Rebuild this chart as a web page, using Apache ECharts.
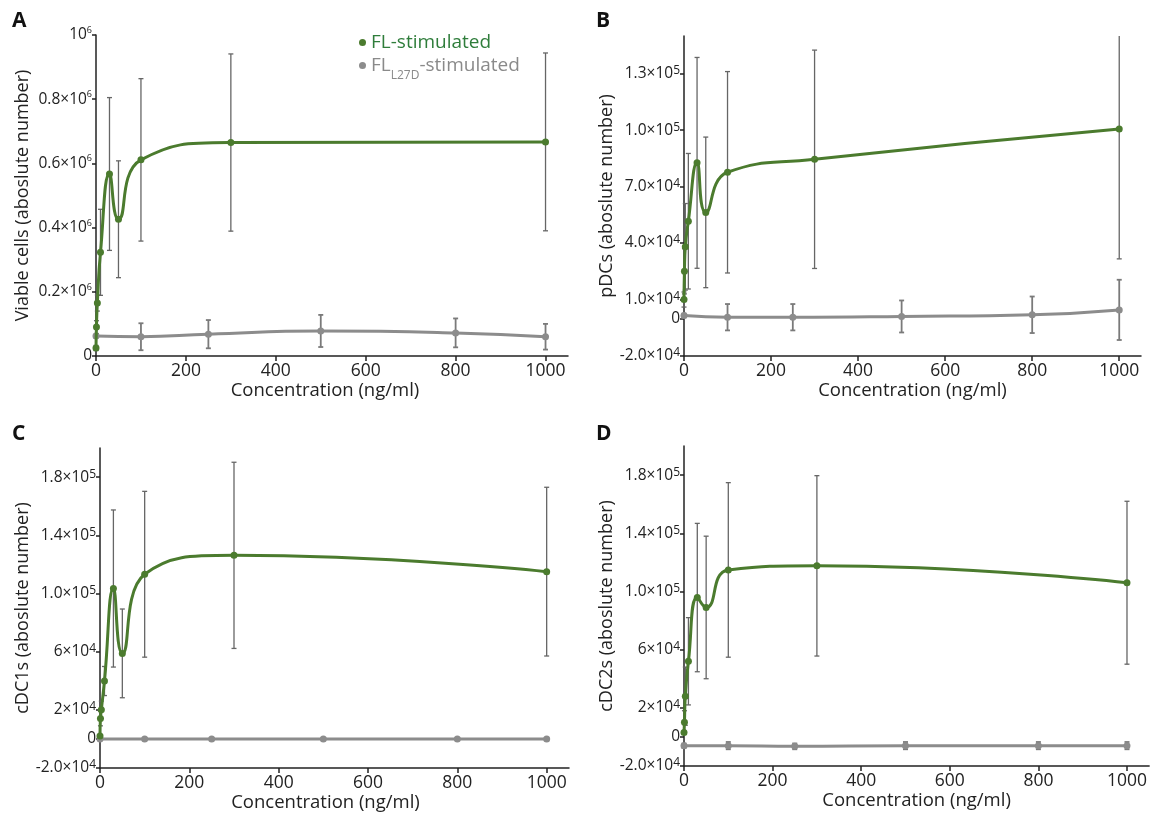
<!DOCTYPE html>
<html><head><meta charset="utf-8">
<script src="https://cdn.jsdelivr.net/npm/echarts@6/dist/echarts.min.js"></script>
<style>html,body{margin:0;padding:0;background:#fff}#c{width:1150px;height:816px}</style>
</head><body><div id="c"></div>
<script>
// ---------- data ----------
const concFL = [0, 1, 3, 10, 30, 50, 100, 300, 1000];
const concL27D = [0, 100, 250, 500, 800, 1000];
const xTicks = [0, 200, 400, 600, 800, 1000];

const viableFL = [25000, 90000, 165000, 323000, 567000, 426000, 611000, 665000, 667000];
const viableFLErr = [8000, 20000, 25000, 134000, 238000, 182000, 253000, 276000, 277000];
const viableL27D = [62000, 60000, 68000, 78000, 72000, 60000];
const viableL27DErr = [5000, 42000, 44000, 50000, 45000, 40000];

const pdcFL = [10000, 25000, 38000, 51600, 82600, 56300, 77600, 84500, 100600];
const pdcFLErr = [4000, 12000, 23000, 36000, 56000, 40000, 53500, 58000, 69000];
const pdcL27D = [1500, 600, 600, 1000, 1900, 4500];
const pdcL27DErr = [1000, 7000, 7000, 8500, 9700, 16000];

const cdc1FL = [2000, 14000, 20000, 39800, 103400, 58800, 113200, 126200, 115000];
const cdc1FLErr = [1000, 5000, 6000, 10000, 54000, 30500, 57000, 64000, 58000];
const cdc1L27D = [0, 0, 0, 0, 0, 0];
const cdc1L27DErr = [500, 500, 500, 500, 500, 500];

const cdc2FL = [3000, 10000, 28000, 52000, 95800, 89000, 114800, 117600, 106000];
const cdc2FLErr = [1000, 8000, 20000, 30000, 51000, 49000, 60000, 62000, 56000];
const cdc2L27D = [-6000, -6000, -6500, -6000, -6000, -6000];
const cdc2L27DErr = [1500, 2500, 2000, 2500, 2500, 2500];

const viableTicks = [0, 200000, 400000, 600000, 800000, 1000000];
const viableTickLabels = ['0', '0.2×10^6', '0.4×10^6', '0.6×10^6', '0.8×10^6', '10^6'];
const pdcTicks = [-20000, 0, 10000, 40000, 70000, 100000, 130000];
const pdcTickLabels = ['-2.0×10^4', '0', '1.0×10^4', '4.0×10^4', '7.0×10^4', '1.0×10^5', '1.3×10^5'];
const cdcTicks = [-20000, 0, 20000, 60000, 100000, 140000, 180000];
const cdcTickLabels = ['-2.0×10^4', '0', '2×10^4', '6×10^4', '1.0×10^5', '1.4×10^5', '1.8×10^5'];

const seriesNames = ['FL-stimulated', 'FL_L27D-stimulated'];

// ---------- layout / style ----------
const FONT = 'Open Sans';
const GREEN = '#4b7b2e';
const GRAY = '#8c8c8c';
const panels = [
  {letter: 'A', rect: {left: 96, top: 35, width: 472, height: 321}, yMin: 0, yMax: 1000000,
   ticks: viableTicks, labels: viableTickLabels, yName: 'Viable cells (aboslute number)', nameGap: 64, sup: 9, xShift: 14,
   fl: viableFL, flErr: viableFLErr, l27: viableL27D, l27Err: viableL27DErr, lx: 12, ly: 19},
  {letter: 'B', rect: {left: 684, top: 36, width: 457, height: 320}, yMin: -20000, yMax: 150000,
   ticks: pdcTicks, labels: pdcTickLabels, yName: 'pDCs (aboslute number)', nameGap: 60, sup: 12, xShift: 0,
   fl: pdcFL, flErr: pdcFLErr, l27: pdcL27D, l27Err: pdcL27DErr, lx: 596, ly: 19},
  {letter: 'C', rect: {left: 100, top: 448, width: 469, height: 320}, yMin: -20000, yMax: 200000,
   ticks: cdcTicks, labels: cdcTickLabels, yName: 'cDC1s (aboslute number)', nameGap: 58, sup: 12, xShift: 18,
   fl: cdc1FL, flErr: cdc1FLErr, l27: cdc1L27D, l27Err: cdc1L27DErr, lx: 12, ly: 432},
  {letter: 'D', rect: {left: 684, top: 446, width: 470, height: 320}, yMin: -20000, yMax: 200000,
   ticks: cdcTicks, labels: cdcTickLabels, yName: 'cDC2s (aboslute number)', nameGap: 62, sup: 12, xShift: 0,
   fl: cdc2FL, flErr: cdc2FLErr, l27: cdc2L27D, l27Err: cdc2L27DErr, lx: 596, ly: 432}
];

function richLabel(s) {
  const p = s.split('^');
  return p.length > 1 ? '{m|' + p[0] + '}{s|' + p[1] + '}' : '{m|' + p[0] + '}';
}

function errRender(color, lw) {
  return function (params, api) {
    const x = api.value(0), lo = api.value(1), hi = api.value(2);
    const cs = params.coordSys;
    const p1 = api.coord([x, hi]), p2 = api.coord([x, lo]);
    const yT = cs.y, yB = cs.y + cs.height;
    const t = Math.max(p1[1], yT), b = Math.min(p2[1], yB);
    const w = 2.5;
    const style = {stroke: color, lineWidth: lw};
    const ch = [{type: 'line', shape: {x1: p1[0], y1: t, x2: p1[0], y2: b}, style}];
    if (p1[1] >= yT) ch.push({type: 'line', shape: {x1: p1[0] - w, y1: t, x2: p1[0] + w, y2: t}, style});
    if (p2[1] <= yB) ch.push({type: 'line', shape: {x1: p1[0] - w, y1: b, x2: p1[0] + w, y2: b}, style});
    return {type: 'group', children: ch};
  };
}

const grid = [], xAxis = [], yAxis = [], series = [], graphic = [];
panels.forEach((p, i) => {
  grid.push(Object.assign({containLabel: false}, p.rect));
  xAxis.push({
    type: 'value', gridIndex: i, min: 0, max: 1050,
    name: 'Concentration (ng/ml)', nameLocation: 'middle', nameGap: 25,
    nameTextStyle: {fontFamily: FONT, fontSize: 18.5, color: '#222', padding: [0, p.xShift, 0, 0]},
    axisLine: {onZero: false, lineStyle: {color: '#222', width: 1.5}},
    axisTick: {show: true, inside: false, length: 5, lineStyle: {color: '#222', width: 1.5}, customValues: xTicks},
    axisLabel: {fontFamily: FONT, fontSize: 17.5, color: '#222', margin: 6, customValues: xTicks,
      formatter: v => String(v)},
    splitLine: {show: false}
  });
  yAxis.push({
    type: 'value', gridIndex: i, min: p.yMin, max: p.yMax,
    name: p.yName, nameLocation: 'middle', nameGap: p.nameGap,
    nameTextStyle: {fontFamily: FONT, fontSize: 18, color: '#222'},
    axisLine: {show: true, onZero: false, lineStyle: {color: '#222', width: 1.5}},
    axisTick: {show: true, length: 4, lineStyle: {color: '#222', width: 1.5}, customValues: p.ticks},
    axisLabel: {
      customValues: p.ticks, margin: 4,
      formatter: v => { const k = p.ticks.indexOf(v); return k >= 0 ? richLabel(p.labels[k]) : ''; },
      rich: {
        m: {fontFamily: FONT, fontSize: 15.5, color: '#222', lineHeight: 18},
        s: {fontFamily: FONT, fontSize: p.sup, color: '#222', lineHeight: p.sup, verticalAlign: 'top'}
      }
    },
    splitLine: {show: false}
  });
  series.push({
    type: 'custom', xAxisIndex: i, yAxisIndex: i, z: 1,
    renderItem: errRender('#666', 1.3),
    data: concFL.map((x, k) => [x, p.fl[k] - p.flErr[k], p.fl[k] + p.flErr[k]]),
    encode: {x: 0, y: [1, 2]}, silent: true
  });
  series.push({
    type: 'custom', xAxisIndex: i, yAxisIndex: i, z: 1,
    renderItem: errRender('#7a7a7a', 1.8),
    data: concL27D.map((x, k) => [x, p.l27[k] - p.l27Err[k], p.l27[k] + p.l27Err[k]]),
    encode: {x: 0, y: [1, 2]}, silent: true
  });
  series.push({
    name: seriesNames[1], type: 'line', xAxisIndex: i, yAxisIndex: i, z: 3,
    data: concL27D.map((x, k) => [x, p.l27[k]]), smooth: 0.5,
    symbol: 'circle', symbolSize: 7, color: GRAY,
    lineStyle: {color: GRAY, width: 3}, itemStyle: {color: GRAY}
  });
  series.push({
    name: seriesNames[0], type: 'line', xAxisIndex: i, yAxisIndex: i, z: 4,
    data: concFL.map((x, k) => [x, p.fl[k]]), smooth: 0.5,
    symbol: 'circle', symbolSize: 7, color: GREEN,
    lineStyle: {color: GREEN, width: 3}, itemStyle: {color: GREEN}
  });
  graphic.push({type: 'text', left: p.lx, top: p.ly - 8,
    style: {text: p.letter, font: 'bold 21px "' + FONT + '"', fill: '#111'}});
});

const chart = echarts.init(document.getElementById('c'), null, {renderer: 'canvas'});
chart.setOption({
  animation: false,
  backgroundColor: '#fff',
  grid, xAxis, yAxis, series, graphic,
  legend: {
    left: 354, top: 28, orient: 'vertical', itemGap: 4,
    icon: 'circle', itemWidth: 7, itemHeight: 7,
    data: seriesNames,
    formatter: n => n === seriesNames[0] ? '{g|FL-stimulated}' : '{k|FL}{ks|L27D}{k|-stimulated}',
    textStyle: {
      fontFamily: FONT, fontSize: 19,
      rich: {
        g: {fontFamily: FONT, fontSize: 19, color: '#2f7d3b', lineHeight: 21},
        k: {fontFamily: FONT, fontSize: 19, color: '#8a8a8a', lineHeight: 21},
        ks: {fontFamily: FONT, fontSize: 12, color: '#8a8a8a', lineHeight: 12, verticalAlign: 'bottom', padding: [0, 0, -6, 0]}
      }
    }
  }
});
</script></body></html>
